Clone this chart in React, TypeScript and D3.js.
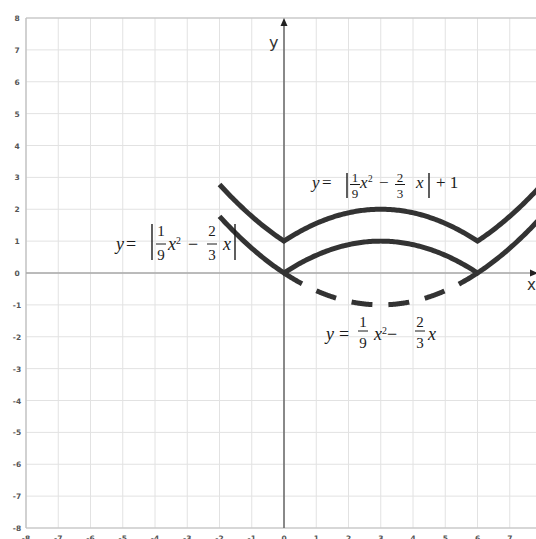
import React from "react";
import * as d3 from "d3";

// Plot window in graph units
const xDomain = [-8, 8];
const yDomain = [-8, 8];
const xTicks = d3.range(-8, 9);
const yTicks = d3.range(-8, 9);

// y = a*x^2 + b*x
const quadA = 1 / 9;
const quadB = -2 / 3;
const liftShift = 1;
// x-range over which each curve is drawn
const absRange = [-2, 8.2];
const dashedRange = [0, 6];

const W = 536;
const H = 539;

const xScale = d3.scaleLinear().domain(xDomain).range([26, 284 + 8 * 32.25]);
const yScale = d3.scaleLinear().domain(yDomain).range([528, 18]);

const f = (x: number) => quadA * x * x + quadB * x;

function samples(range: number[]) {
  const n = 200;
  return d3.range(n + 1).map((i) => range[0] + ((range[1] - range[0]) * i) / n);
}

// include the cusps exactly so the corners stay sharp
function absSamples(range: number[]) {
  const xs = samples(range).concat([0, 6]).filter((x) => x >= range[0] && x <= range[1]);
  return Array.from(new Set(xs)).sort((a, b) => a - b);
}

const line = d3
  .line<[number, number]>()
  .x((d) => xScale(d[0]))
  .y((d) => yScale(d[1]));

const absPath = line(absSamples(absRange).map((x) => [x, Math.abs(f(x))]))!;
const liftPath = line(absSamples(absRange).map((x) => [x, Math.abs(f(x)) + liftShift]))!;
const dashedPath = line(samples(dashedRange).map((x) => [x, f(x)]))!;

const mathFont = "'Liberation Serif', 'DejaVu Serif', serif";

type FracProps = { cx: number; by: number; num: string; den: string; fs: number; numDy: number; denDy: number; lineDy: number };
function Frac({ cx, by, num, den, fs, numDy, denDy, lineDy }: FracProps) {
  return (
    <g>
      <text x={cx} y={by + numDy} fontSize={fs} textAnchor="middle" fontFamily={mathFont}>{num}</text>
      <line x1={cx - 5} x2={cx + 5} y1={by + lineDy} y2={by + lineDy} stroke="#1a1a1a" strokeWidth={1} />
      <text x={cx} y={by + denDy} fontSize={fs} textAnchor="middle" fontFamily={mathFont}>{den}</text>
    </g>
  );
}

type FormulaProps = {
  x: number;
  y: number;
  fs: number;
  dfs: number;
  numDy: number;
  denDy: number;
  lineDy: number;
  bars: boolean;
  plus?: string;
  off: { eq: number; bar1: number; f1: number; x2: number; minus: number; f2: number; x1: number; bar2: number; plus: number };
  barTop: number;
  barBot: number;
};
function Formula(p: FormulaProps) {
  const { x, y, fs, dfs, off } = p;
  const fr = { fs: dfs, numDy: p.numDy, denDy: p.denDy, lineDy: p.lineDy, by: y };
  return (
    <g fill="#1a1a1a">
      <text x={x} y={y} fontSize={fs} fontStyle="italic" fontFamily={mathFont}>y</text>
      <text x={x + off.eq} y={y} fontSize={fs} fontFamily={mathFont}>=</text>
      {p.bars && <line x1={x + off.bar1} x2={x + off.bar1} y1={y + p.barTop} y2={y + p.barBot} stroke="#1a1a1a" strokeWidth={1.4} />}
      <Frac cx={x + off.f1} num="1" den="9" {...fr} />
      <text x={x + off.x2} y={y} fontSize={fs} fontStyle="italic" fontFamily={mathFont}>x</text>
      <text x={x + off.x2 + 8} y={y - 6} fontSize={fs * 0.55} fontFamily={mathFont}>2</text>
      <text x={x + off.minus} y={y} fontSize={fs} fontFamily={mathFont}>−</text>
      <Frac cx={x + off.f2} num="2" den="3" {...fr} />
      <text x={x + off.x1} y={y} fontSize={fs} fontStyle="italic" fontFamily={mathFont}>x</text>
      {p.bars && <line x1={x + off.bar2} x2={x + off.bar2} y1={y + p.barTop} y2={y + p.barBot} stroke="#1a1a1a" strokeWidth={1.4} />}
      {p.plus && <text x={x + off.plus} y={y} fontSize={fs} fontFamily={mathFont}>{p.plus}</text>}
    </g>
  );
}

export default function App() {
  const x0 = xScale(0);
  const y0 = yScale(0);
  return (
    <svg width={W} height={H} style={{ position: "absolute", left: 0, top: 0, background: "#fff" }}>
      <rect width={W} height={H} fill="#fff" />
      {/* grid */}
      <g stroke="#e2e2e2" strokeWidth={1}>
        {xTicks.map((t) => (
          <line key={"gx" + t} x1={xScale(t)} x2={xScale(t)} y1={yScale(8)} y2={yScale(-8)} />
        ))}
        {yTicks.map((t) => (
          <line key={"gy" + t} x1={xScale(-8)} x2={W} y1={yScale(t)} y2={yScale(t)} />
        ))}
      </g>
      {/* frame */}
      <g stroke="#bdbdbd" strokeWidth={1.2}>
        <line x1={xScale(-8)} x2={xScale(-8)} y1={yScale(8)} y2={yScale(-8)} />
        <line x1={xScale(-8)} x2={W} y1={yScale(8)} y2={yScale(8)} />
        <line x1={xScale(-8)} x2={W} y1={yScale(-8)} y2={yScale(-8)} />
      </g>
      {/* tick labels */}
      <g fill="#555" fontFamily="'DejaVu Sans', sans-serif" fontSize={7.5} fontWeight="bold">
        {yTicks.map((t) => (
          <text key={"ty" + t} x={17} y={yScale(t) + 3} textAnchor="middle">{t}</text>
        ))}
        {xTicks.map((t) => (
          <text key={"tx" + t} x={xScale(t)} y={541} textAnchor="middle">{t}</text>
        ))}
      </g>
      {/* axes */}
      <line x1={xScale(-8)} x2={W} y1={y0} y2={y0} stroke="#a8a8a8" strokeWidth={1.5} />
      <line x1={x0} x2={x0} y1={yScale(-8)} y2={yScale(8) + 4} stroke="#666" strokeWidth={1.5} />
      <path d={`M${x0},${yScale(8)} L${x0 - 3.5},${yScale(8) + 8} L${x0 + 3.5},${yScale(8) + 8} Z`} fill="#222" />
      <path d={`M${W + 2},${y0} L${W - 6},${y0 - 3.5} L${W - 6},${y0 + 3.5} Z`} fill="#222" />
      <text x={x0 - 15} y={48} fontSize={16} fontFamily="'DejaVu Sans', sans-serif" fill="#333">y</text>
      <text x={W - 9} y={290} fontSize={15} fontFamily="'DejaVu Sans', sans-serif" fill="#333">x</text>
      {/* curves */}
      <g fill="none" stroke="#333" strokeWidth={5} strokeLinejoin="miter">
        <path d={liftPath} />
        <path d={absPath} />
        <path d={dashedPath} strokeDasharray="21 16" />
      </g>
      {/* formula labels */}
      <Formula
        x={116} y={250} fs={18} dfs={15} numDy={-14} denDy={10} lineDy={-6}
        bars barTop={-26} barBot={10}
        off={{ eq: 10, bar1: 36, f1: 45, x2: 52, minus: 72, f2: 96, x1: 107, bar2: 119, plus: 0 }}
      />
      <Formula
        x={312} y={188} fs={17} dfs={13} numDy={-6} denDy={10} lineDy={-3.5}
        bars barTop={-15} barBot={10} plus="+ 1"
        off={{ eq: 10, bar1: 35, f1: 43, x2: 48, minus: 67, f2: 88, x1: 104, bar2: 117, plus: 124 }}
      />
      <Formula
        x={326} y={340} fs={18} dfs={15} numDy={-13} denDy={8} lineDy={-9}
        bars={false} barTop={0} barBot={0}
        off={{ eq: 13, bar1: 0, f1: 37, x2: 48, minus: 61, f2: 94, x1: 102, bar2: 0, plus: 0 }}
      />
    </svg>
  );
}
